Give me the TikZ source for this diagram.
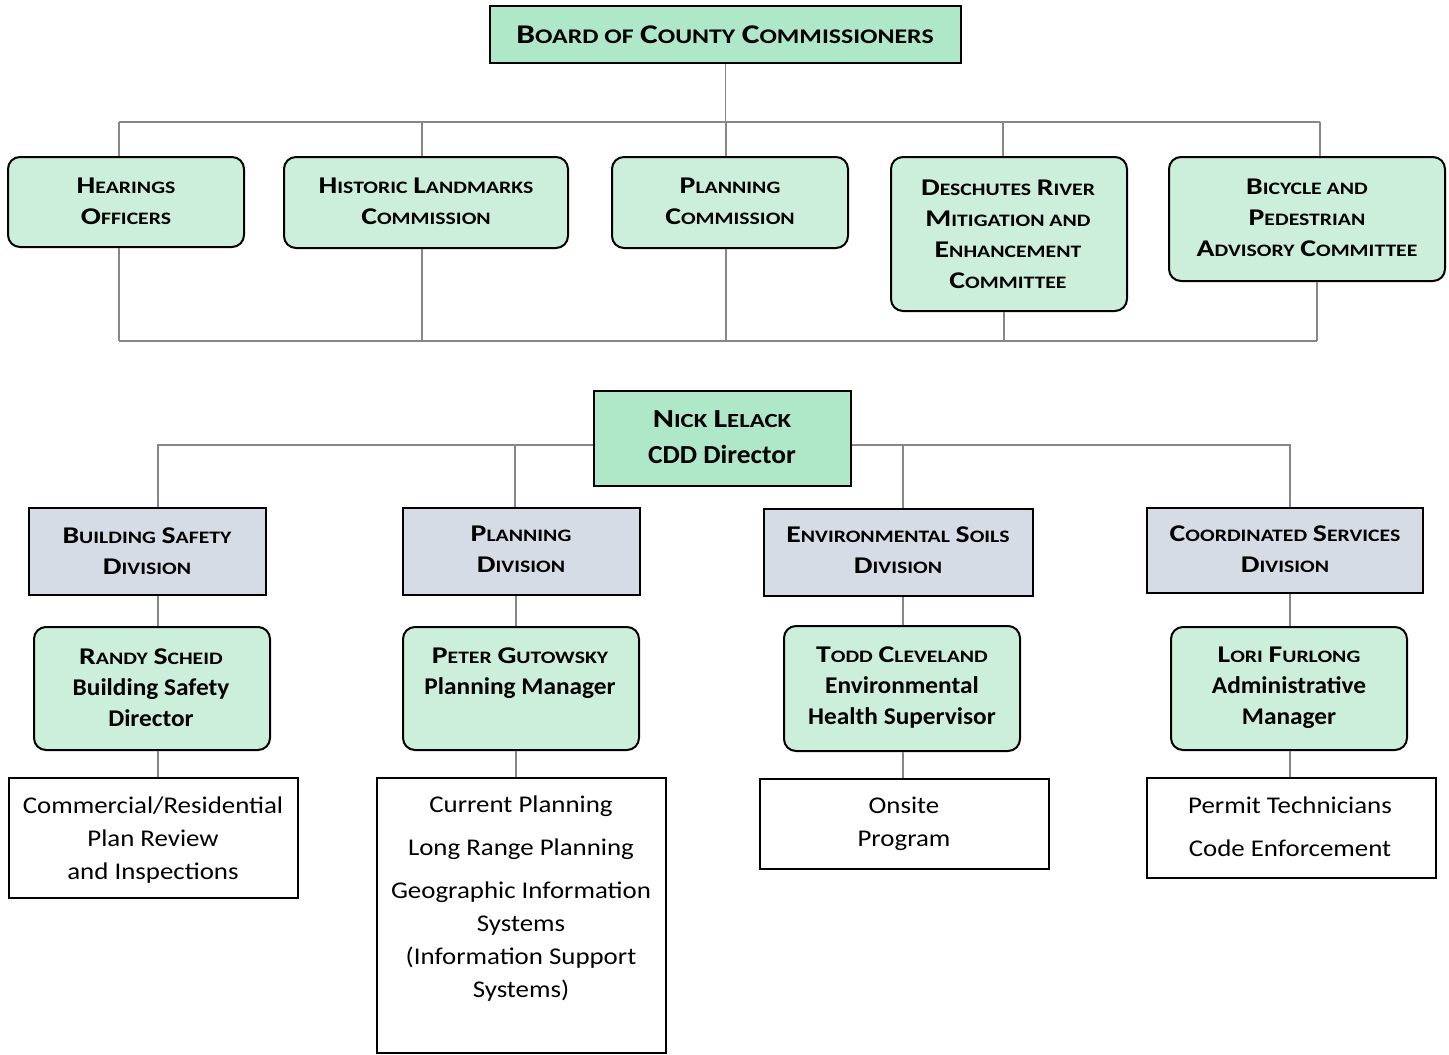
\documentclass[tikz,border=0pt]{standalone}
\usepackage{fontspec}
\setmainfont{Carlito}[FakeStretch=1.055]
\newfontfamily\regf{Carlito}[FakeStretch=1.12]
\newfontfamily\scfam{Carlito}[FakeStretch=1.24]
\definecolor{boardgreen}{RGB}{175,232,201}
\definecolor{lightgreen}{RGB}{204,239,219}
\definecolor{divgray}{RGB}{214,220,229}
\definecolor{linegray}{RGB}{135,135,135}
\def\smsz{17.5}
% small-caps word: first letter full size, rest smaller capitals
\newcommand\SC[2]{{\scfam\bfseries #1{\fontsize{\smsz}{\smsz}\selectfont #2}}}
\tikzset{
  conn/.style={draw=linegray, line width=1.8pt},
  boardbox/.style={draw=black, line width=2.5pt, fill=boardgreen, inner sep=0pt},
  commbox/.style={draw=black, line width=2pt, fill=lightgreen, rounded corners=12pt, inner sep=0pt},
  divbox/.style={draw=black, line width=2.5pt, fill=divgray, inner sep=0pt},
  listbox/.style={draw=black, line width=2pt, fill=white, inner sep=0pt},
  lbl/.style={align=center, inner sep=0pt, font=\def\smsz{17.5}\bfseries\fontsize{24}{31}\selectfont},
  bigl/.style={align=center, inner sep=0pt, font=\def\smsz{20}\bfseries\fontsize{26}{36}\selectfont},
  boardl/.style={align=center, inner sep=0pt, font=\def\smsz{20.8}\bfseries\fontsize{27}{36}\selectfont},
  plain/.style={align=center, inner sep=0pt, font=\regf\fontsize{24}{33}\selectfont},
}
% \bx{name}{x1}{y1}{x2}{y2}{style}
\newcommand\bx[6]{\node[#6, minimum width={(#4-#2)*1pt}, minimum height={(#5-#3)*1pt}] (#1) at ({(#2+#4)/2},{-(#3+#5)/2}) {};}
\begin{document}
\begin{tikzpicture}[x=1pt,y=1pt]
\useasboundingbox (0,0) rectangle (1449,-1055);
% ---- boxes ----
\bx{board}{490}{6}{961}{63}{boardbox}
\bx{hear}{8}{157}{244}{247}{commbox}
\bx{hist}{284}{157}{568}{248}{commbox}
\bx{plancomm}{612}{157}{848}{248}{commbox}
\bx{desch}{891}{157}{1127}{311}{commbox}
\bx{bike}{1169}{157}{1445}{281}{commbox}
\bx{nick}{594}{391}{851}{486}{boardbox}
\bx{bsd}{29}{508}{266}{595}{divbox}
\bx{pd}{403}{508}{640}{595}{divbox}
\bx{esd}{764}{509}{1033}{596}{divbox}
\bx{csd}{1147}{508}{1423}{593}{divbox}
\bx{randy}{34}{627}{270}{750}{commbox}
\bx{peter}{403}{627}{639}{750}{commbox}
\bx{todd}{784}{626}{1020}{751}{commbox}
\bx{lori}{1171}{627}{1407}{750}{commbox}
\bx{comres}{9}{778}{298}{898}{listbox}
\bx{planlist}{377}{778}{666}{1053}{listbox}
\bx{onsite}{760}{779}{1049}{869}{listbox}
\bx{permit}{1147}{778}{1436}{878}{listbox}
% ---- texts ----
\node[boardl] (board-t) at (725,-35) {\SC{B}{OARD OF} \SC{C}{OUNTY} \SC{C}{OMMISSIONERS}};
\node[lbl] (hear-t) at (126,-201) {\SC{H}{EARINGS}\\\SC{O}{FFICERS}};
\node[lbl] (hist-t) at (426,-201) {\SC{H}{ISTORIC} \SC{L}{ANDMARKS}\\\SC{C}{OMMISSION}};
\node[lbl] (plancomm-t) at (730,-201) {\SC{P}{LANNING}\\\SC{C}{OMMISSION}};
\node[lbl] (desch-t) at (1008,-234) {\SC{D}{ESCHUTES} \SC{R}{IVER}\\\SC{M}{ITIGATION AND}\\\SC{E}{NHANCEMENT}\\\SC{C}{OMMITTEE}};
\node[lbl] (bike-t) at (1307,-218) {\SC{B}{ICYCLE AND}\\\SC{P}{EDESTRIAN}\\\SC{A}{DVISORY} \SC{C}{OMMITTEE}};
\node[bigl] (nick-t) at (722,-437) {\SC{N}{ICK} \SC{L}{ELACK}\\CDD Director};
\node[lbl] (bsd-t) at (147,-551) {\SC{B}{UILDING} \SC{S}{AFETY}\\\SC{D}{IVISION}};
\node[lbl] (pd-t) at (521,-549) {\SC{P}{LANNING}\\\SC{D}{IVISION}};
\node[lbl] (esd-t) at (898,-550) {\SC{E}{NVIRONMENTAL} \SC{S}{OILS}\\\SC{D}{IVISION}};
\node[lbl] (csd-t) at (1285,-549) {\SC{C}{OORDINATED} \SC{S}{ERVICES}\\\SC{D}{IVISION}};
\node[lbl] (randy-t) at (151,-688) {\SC{R}{ANDY} \SC{S}{CHEID}\\Building Safety\\Director};
\node[lbl] (peter-t) at (520,-673) {\SC{P}{ETER} \SC{G}{UTOWSKY}\\Planning Manager};
\node[lbl] (todd-t) at (902,-688) {\SC{T}{ODD} \SC{C}{LEVELAND}\\Environmental\\Health Supervisor};
\node[lbl] (lori-t) at (1289,-688) {\SC{L}{ORI} \SC{F}{URLONG}\\Administrative\\Manager};
\node[plain] (comres-t) at (153,-840) {Commercial/Residential\\Plan Review\\and Inspections};
\node[plain] (planlist-t) at (521,-899) {Current Planning\\[10pt]Long Range Planning\\[10pt]Geographic Information\\Systems\\(Information Support\\Systems)};
\node[plain] (onsite-t) at (904,-824) {Onsite\\Program};
\node[plain] (permit-t) at (1290,-827) {Permit Technicians\\[10pt]Code Enforcement};
% ---- connectors: board to committees ----
\coordinate (t1) at (119,-122);
\coordinate (t2) at (422,-122);
\coordinate (t3) at (726,-122);
\coordinate (t4) at (1003,-122);
\coordinate (t5) at (1320,-122);
\draw[conn] (board.south) -- (board.south |- t3);
\draw[conn] (t1) -- (t5);
\draw[conn] (t1) -- (t1 |- hear.north);
\draw[conn] (t2) -- (t2 |- hist.north);
\draw[conn] (t3) -- (t3 |- plancomm.north);
\draw[conn] (t4) -- (t4 |- desch.north);
\draw[conn] (t5) -- (t5 |- bike.north);
\coordinate (b1) at (119,-341);
\coordinate (b2) at (422,-341);
\coordinate (b3) at (726,-341);
\coordinate (b4) at (1004,-341);
\coordinate (b5) at (1317,-341);
\draw[conn] (b1) -- (b5);
\draw[conn] (b1 |- hear.south) -- (b1);
\draw[conn] (b2 |- hist.south) -- (b2);
\draw[conn] (b3 |- plancomm.south) -- (b3);
\draw[conn] (b4 |- desch.south) -- (b4);
\draw[conn] (b5 |- bike.south) -- (b5);
% ---- director to divisions ----
\coordinate (n1) at (158,-445);
\coordinate (n2) at (515,-445);
\coordinate (n3) at (903,-445);
\coordinate (n4) at (1290,-445);
\draw[conn] (nick.west |- n1) -- (n1) -- (n1 |- bsd.north);
\draw[conn] (n2) -- (n2 |- pd.north);
\draw[conn] (nick.east |- n4) -- (n4) -- (n4 |- csd.north);
\draw[conn] (n3) -- (n3 |- esd.north);
% ---- divisions to persons ----
\coordinate (d1) at (158,0);
\coordinate (d2) at (516,0);
\coordinate (d3) at (903,0);
\coordinate (d4) at (1290,0);
\draw[conn] (d1 |- bsd.south) -- (d1 |- randy.north);
\draw[conn] (d2 |- pd.south) -- (d2 |- peter.north);
\draw[conn] (d3 |- esd.south) -- (d3 |- todd.north);
\draw[conn] (d4 |- csd.south) -- (d4 |- lori.north);
\draw[conn] (d1 |- randy.south) -- (d1 |- comres.north);
\draw[conn] (d2 |- peter.south) -- (d2 |- planlist.north);
\draw[conn] (d3 |- todd.south) -- (d3 |- onsite.north);
\draw[conn] (d4 |- lori.south) -- (d4 |- permit.north);
\end{tikzpicture}
\end{document}
